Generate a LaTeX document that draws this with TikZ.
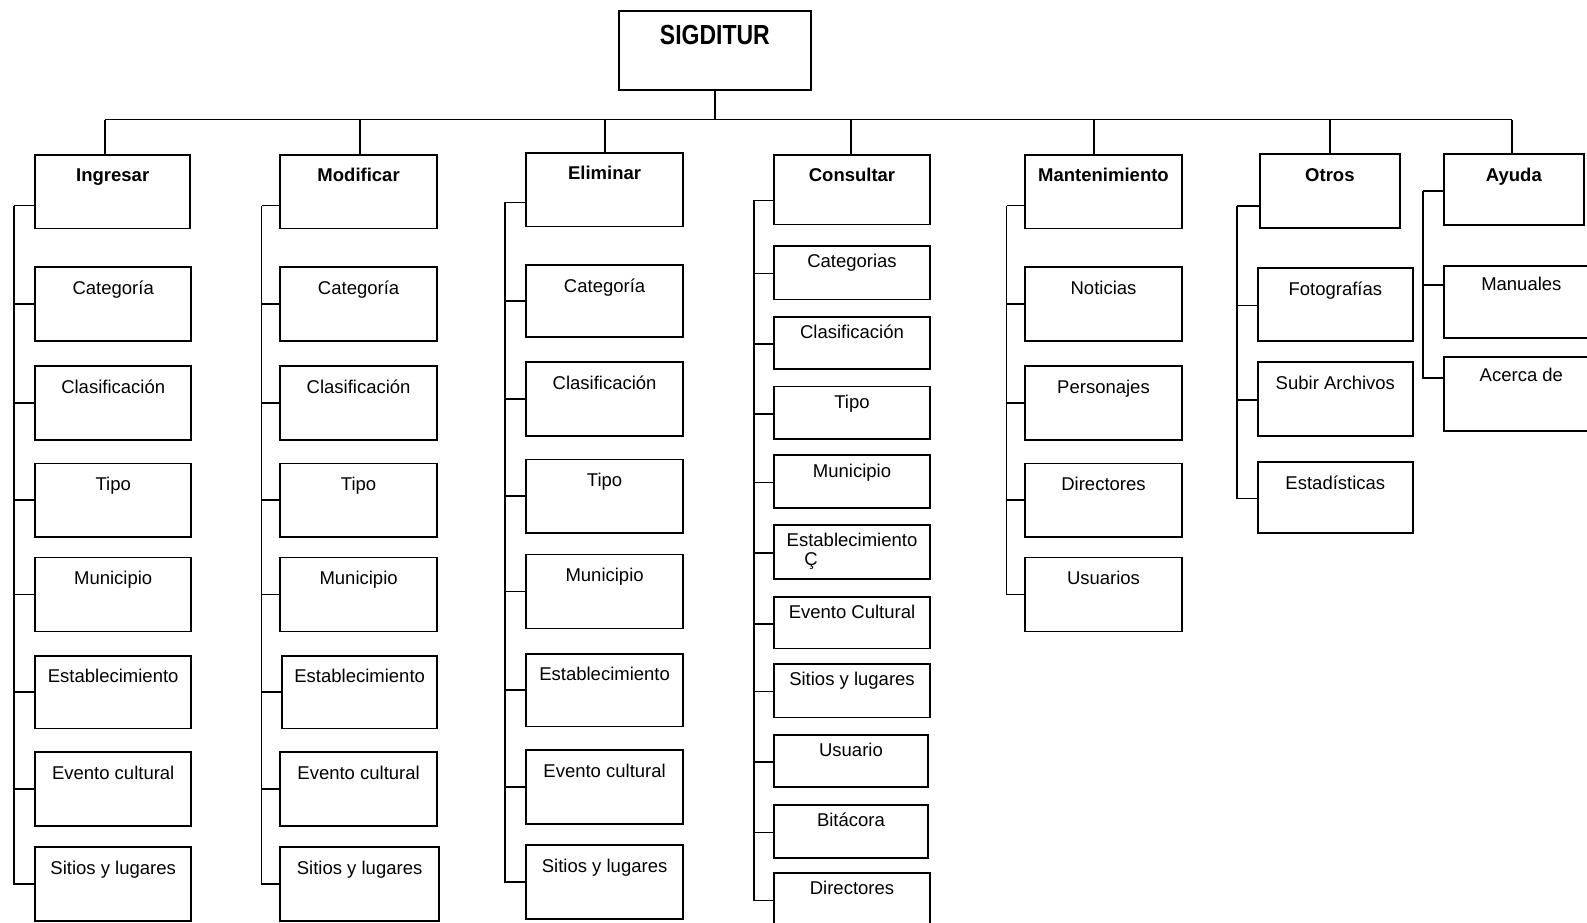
\documentclass[tikz,border=0pt]{standalone}
\usepackage{fontspec}
\usepackage{graphicx}
\setmainfont{Liberation Sans}

% \mkbox{name}{x1}{y1}{x2}{y2}{baseline offset}{label style}{text}
\newcommand\mkbox[8]{%
  \node[frame, minimum width={#4-#2}, minimum height={#5-#3}] (#1) at (#2,-#3) {};
  \node[#7] (#1-l) at ([yshift=-#6pt]#1.north) {#8};}

\begin{document}
\begin{tikzpicture}[x=1pt,y=1pt,
  frame/.style={draw=black, line width=1.7pt, inner sep=0pt, anchor=north west},
  lab/.style={anchor=base, inner sep=0pt, font=\fontsize{18.5}{22}\selectfont},
  head/.style={anchor=base, inner sep=0pt, font=\fontsize{18.5}{22}\selectfont\bfseries},
  title/.style={anchor=base, inner sep=0pt, font=\fontsize{23}{27}\selectfont\bfseries},
  wire/.style={draw=black, line width=1.7pt}]
\clip (0,0) rectangle (1587,-922);
\fill[white] (0,0) rectangle (1587,-922);

% root
\mkbox{root}{618}{10}{810}{89}{34.5}{title}{\scalebox{1}[1.2]{SIGDITUR}}

% first level
\mkbox{ing}{34.4}{153.8}{189.3}{227.7}{28}{head}{Ingresar}
\mkbox{mod}{279.3}{153.8}{436.2}{227.7}{28}{head}{Modificar}
\mkbox{eli}{525.3}{151.8}{682.2}{225.7}{28}{head}{Eliminar}
\mkbox{con}{773.2}{153.8}{929.1}{223.7}{28}{head}{Consultar}
\mkbox{man}{1024.2}{153.8}{1181.1}{227.7}{28}{head}{Mantenimiento}
\mkbox{otr}{1259}{153}{1399}{227}{28}{head}{Otros}
\mkbox{ayu}{1443}{153}{1583}{224}{28}{head}{Ayuda}

% bus from the root to the first level
\coordinate (b-ing) at (105.3,-119.5);
\coordinate (b-mod) at (360.3,-119.5);
\coordinate (b-eli) at (605.2,-119.5);
\coordinate (b-con) at (851.2,-119.5);
\coordinate (b-man) at (1094,-119.5);
\coordinate (b-otr) at (1330,-119.5);
\coordinate (b-ayu) at (1512,-119.5);
\draw[wire] (root.south) -- (root.south |- b-ing);
\draw[wire] (b-ing) -- (b-ayu);
\foreach \n in {ing,mod,eli,con,man,otr,ayu}
  \draw[wire] (b-\n) -- (b-\n |- \n.north);

% Ingresar
\mkbox{i1}{34.4}{266.2}{190.3}{340.1}{28}{lab}{Categoría}
\mkbox{i2}{34.4}{365.4}{190.3}{439.3}{28}{lab}{Clasificación}
\mkbox{i3}{34.4}{462.5}{190.3}{536.4}{28}{lab}{Tipo}
\mkbox{i4}{34.4}{556.7}{190.3}{630.5}{28}{lab}{Municipio}
\mkbox{i5}{34.4}{654.8}{190.3}{727.7}{28}{lab}{Establecimiento}
\mkbox{i6}{34.4}{751}{190.3}{824.9}{28}{lab}{Evento cultural}
\mkbox{i7}{34.4}{846.1}{190.3}{920}{28}{lab}{Sitios y lugares}
\coordinate (t-ing) at (14.2,-205.5);
\draw[wire] (t-ing) -- (t-ing -| ing.west);
\foreach \c in {i1,i2,i3,i4,i5,i6,i7}
  \draw[wire] (\c.west) -| (t-ing);

% Modificar
\mkbox{m1}{279.3}{266.2}{436.2}{340.1}{28}{lab}{Categoría}
\mkbox{m2}{279.3}{365.4}{436.2}{439.3}{28}{lab}{Clasificación}
\mkbox{m3}{279.3}{462.5}{436.2}{536.4}{28}{lab}{Tipo}
\mkbox{m4}{279.3}{556.7}{436.2}{630.5}{28}{lab}{Municipio}
\mkbox{m5}{281.4}{654.8}{436.2}{727.7}{28}{lab}{Establecimiento}
\mkbox{m6}{279.3}{751}{436.2}{824.9}{28}{lab}{Evento cultural}
\mkbox{m7}{279.3}{846.1}{438.2}{920}{28}{lab}{Sitios y lugares}
\coordinate (t-mod) at (261.5,-205.5);
\draw[wire] (t-mod) -- (t-mod -| mod.west);
\foreach \c in {m1,m2,m3,m4,m5,m6,m7}
  \draw[wire] (\c.west) -| (t-mod);

% Eliminar
\mkbox{e1}{525.3}{264.2}{682.2}{336}{28}{lab}{Categoría}
\mkbox{e2}{525.3}{361.3}{682.2}{435.2}{28}{lab}{Clasificación}
\mkbox{e3}{525.3}{458.5}{682.2}{532.4}{28}{lab}{Tipo}
\mkbox{e4}{525.3}{553.6}{682.2}{627.5}{28}{lab}{Municipio}
\mkbox{e5}{525.3}{652.8}{682.2}{725.7}{28}{lab}{Establecimiento}
\mkbox{e6}{525.3}{749}{682.2}{822.8}{28}{lab}{Evento cultural}
\mkbox{e7}{525.3}{844.1}{682.2}{918}{28}{lab}{Sitios y lugares}
\coordinate (t-eli) at (505,-202.4);
\draw[wire] (t-eli) -- (t-eli -| eli.west);
\foreach \c in {e1,e2,e3,e4,e5,e6,e7}
  \draw[wire] (\c.west) -| (t-eli);

% Consultar
\mkbox{c1}{773.2}{244.9}{929.1}{298.6}{22.6}{lab}{Categorias}
\mkbox{c2}{773.2}{315.8}{929.1}{368.4}{22.6}{lab}{Clasificación}
\mkbox{c3}{773.2}{385.6}{929.1}{438.2}{22.6}{lab}{Tipo}
\mkbox{c4}{773.2}{454.4}{929.1}{507.1}{22.6}{lab}{Municipio}
\mkbox{c5}{773.2}{524}{929.1}{578}{22.6}{lab}{Establecimiento}
\mkbox{c6}{773.2}{596.1}{929.1}{647.7}{22.6}{lab}{Evento Cultural}
\mkbox{c7}{773.2}{662.9}{929.1}{716.6}{22.6}{lab}{Sitios y lugares}
\mkbox{c8}{773.2}{733.8}{927}{786.4}{22.6}{lab}{Usuario}
\mkbox{c9}{773.2}{804}{927}{857}{22.6}{lab}{Bitácora}
\mkbox{c10}{773.2}{872}{929.1}{925}{22.6}{lab}{Directores}
\node[lab] (stray) at (811,-565) {Ç};
\coordinate (t-con) at (754,-200.4);
\draw[wire] (t-con) -- (t-con -| con.west);
\foreach \c in {c1,c2,c3,c4,c5,c6,c7,c8,c9,c10}
  \draw[wire] ([yshift=-1pt]\c.west) -| (t-con);

% Mantenimiento
\mkbox{n1}{1024.2}{266.2}{1181.1}{340.1}{28}{lab}{Noticias}
\mkbox{n2}{1024.2}{365.4}{1181.1}{439.3}{28}{lab}{Personajes}
\mkbox{n3}{1024.2}{462.5}{1181.1}{536.4}{28}{lab}{Directores}
\mkbox{n4}{1024.2}{556.7}{1181.1}{630.5}{28}{lab}{Usuarios}
\coordinate (t-man) at (1006.5,-205.5);
\draw[wire] (t-man) -- (t-man -| man.west);
\foreach \c in {n1,n2,n3,n4}
  \draw[wire] (\c.west) -| (t-man);

% Otros
\mkbox{o1}{1257}{267}{1412}{340}{28}{lab}{Fotografías}
\mkbox{o2}{1257}{361}{1412}{435}{28}{lab}{Subir Archivos}
\mkbox{o3}{1257}{461}{1412}{532}{28}{lab}{Estadísticas}
\coordinate (t-otr) at (1237,-206);
\draw[wire] (t-otr) -- (t-otr -| otr.west);
\foreach \c in {o1,o2,o3}
  \draw[wire] ([yshift=-1pt]\c.west) -| (t-otr);

% Ayuda
\mkbox{a1}{1443}{265}{1598}{337}{25.6}{lab}{Manuales}
\mkbox{a2}{1443}{356}{1598}{430}{25.6}{lab}{Acerca de}
\coordinate (t-ayu) at (1423,-191);
\draw[wire] (t-ayu) -- (t-ayu -| ayu.west);
\draw[wire] ([yshift=-20pt]a1.north west) -| (t-ayu);
\draw[wire] ([yshift=-22pt]a2.north west) -| (t-ayu);
\end{tikzpicture}
\end{document}
